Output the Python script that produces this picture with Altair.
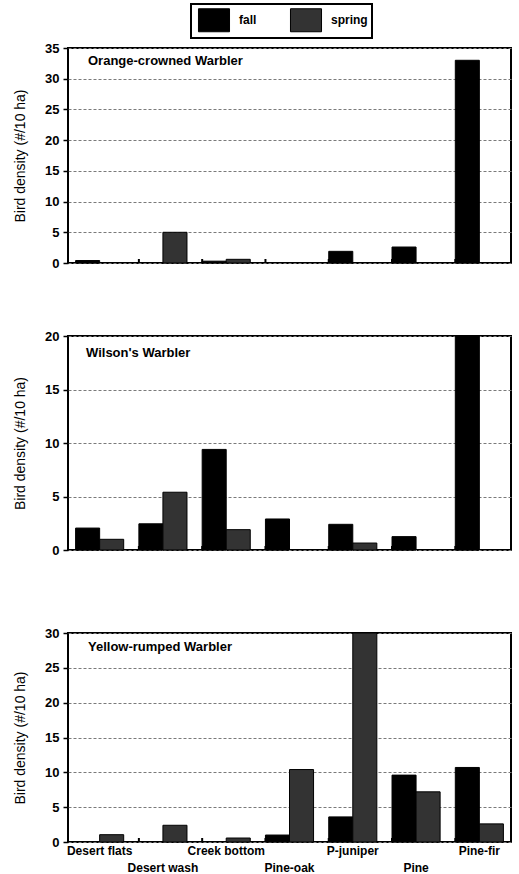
import altair as alt
import pandas as pd

habitats = ["Desert flats", "Desert wash", "Creek bottom", "Pine-oak",
            "P-juniper", "Pine", "Pine-fir"]
seasons = ["fall", "spring"]

# Orange-crowned Warbler
ocw_fall = [0.4, 0.0, 0.3, 0.0, 1.9, 2.6, 33.0]
ocw_spring = [0.0, 5.0, 0.6, 0.0, 0.0, 0.0, 0.0]
# Wilson's Warbler
wiwa_fall = [2.05, 2.45, 9.4, 2.9, 2.4, 1.25, 20.0]
wiwa_spring = [1.0, 5.4, 1.9, 0.0, 0.65, 0.0, 0.0]
# Yellow-rumped Warbler
yrwa_fall = [0.0, 0.0, 0.0, 1.0, 3.6, 9.6, 10.7]
yrwa_spring = [1.05, 2.4, 0.57, 10.4, 30.0, 7.2, 2.6]

FONT = "Liberation Sans"
W = 443
NB = "\u00a0"
X_SCALE = alt.Scale(domain=habitats, paddingInner=0.24, paddingOuter=0.12)
COLOR = alt.Color(
    "season:N",
    scale=alt.Scale(domain=seasons, range=["#000000", "#333333"]),
    legend=alt.Legend(
        title=None, orient="none", legendX=123, legendY=-44,
        direction="horizontal",
        symbolType="M-1.35,-1H1.35V1H-1.35Z", symbolSize=529,
        symbolStrokeColor="black", symbolStrokeWidth=1, symbolOffset=7,
        labelFont=FONT, labelFontSize=12, labelFontWeight="bold",
        labelColor="black", labelOffset=13, columnPadding=30,
        labelExpr="datum.label == 'spring' ? 'spring" + NB * 4 + "' : datum.label",
        padding=4, strokeColor="black", fillColor="white",
    ),
)


def panel(fall, spring, name, ymax, height, ty, tdx, kind):
    df = pd.DataFrame({
        "habitat": habitats * 2,
        "season": ["fall"] * len(habitats) + ["spring"] * len(habitats),
        "value": list(fall) + list(spring),
    })
    df = df[df["value"] > 0]
    if kind == "bottom":
        xaxis = alt.Axis(
            title=None, domain=False, ticks=False, tickSize=0, grid=False,
            labelFont=FONT, labelFontSize=12, labelFontWeight="bold",
            labelColor="black", labelAngle=0, labelPadding=3,
            labelOverlap=False, labelLimit=200, labelLineHeight=17,
            labelExpr="indexof(['Desert wash','Pine-oak','Pine'], datum.label) >= 0 ? ['', datum.label] : datum.label",
        )
    elif kind == "middle":
        # invisible spacer below the middle panel
        xaxis = alt.Axis(title=None, domain=False, labels=False, grid=False,
                         ticks=True, tickSize=16, tickColor="white")
    else:
        xaxis = None
    bars = alt.Chart(df).mark_bar(stroke="black", strokeWidth=1).encode(
        x=alt.X("habitat:N", sort=habitats, scale=X_SCALE, axis=xaxis),
        xOffset=alt.XOffset("season:N", sort=seasons,
                            scale=alt.Scale(domain=seasons)),
        y=alt.Y("value:Q",
                scale=alt.Scale(domain=[0, ymax], nice=False, zero=True),
                axis=alt.Axis(
                    values=list(range(0, ymax + 1, 5)),
                    title="Bird density (#/10 ha)",
                    titleFont=FONT, titleFontSize=14, titleFontWeight="normal",
                    titleColor="black", titlePadding=17,
                    labelFont=FONT, labelFontSize=13, labelFontWeight="bold",
                    labelColor="black", labelPadding=4,
                    tickSize=5, tickColor="black", tickWidth=1.5,
                    domain=False, grid=True, gridColor="#7a7a7a",
                    gridDash=[3, 2], gridWidth=1,
                )),
        color=COLOR,
    )
    bdf = pd.DataFrame({"habitat": habitats[1:]})
    ticks = alt.Chart(bdf).mark_rule(color="black", strokeWidth=2).encode(
        x=alt.X("habitat:N", sort=habitats, scale=X_SCALE, axis=xaxis,
                bandPosition=0),
        y=alt.value(height),
        y2=alt.value(height - 4),
    )
    label = alt.Chart(pd.DataFrame({"name": [name]})).mark_text(
        align="left", baseline="top", font=FONT, fontSize=13,
        fontWeight="bold", color="black",
    ).encode(x=alt.value(tdx), y=alt.value(ty), text="name:N")
    return alt.layer(bars, ticks, label).properties(width=W, height=height)


p1 = panel(ocw_fall, ocw_spring, "Orange-crowned Warbler", 35, 215, 7, 20, "top")
p2 = panel(wiwa_fall, wiwa_spring, "Wilson's Warbler", 20, 214, 11, 18, "middle")
p3 = panel(yrwa_fall, yrwa_spring, "Yellow-rumped Warbler", 30, 209, 8, 20, "bottom")

chart = alt.vconcat(p1, p2, p3, spacing=58).properties(
    padding={"left": 12, "top": 3, "right": 0, "bottom": 0},
    background="white",
).configure_view(stroke="black", strokeWidth=2).configure_legend(
    strokeWidth=2
)

chart.save("out.html", embed_options={"renderer": "svg", "actions": False})
